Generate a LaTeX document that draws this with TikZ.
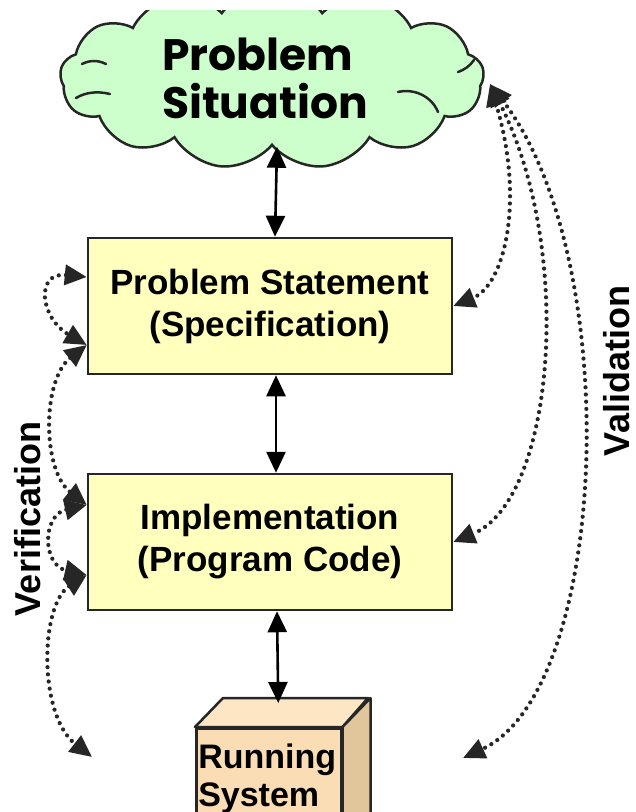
\documentclass[tikz,border=0pt]{standalone}
\usepackage{fontspec}
\setmainfont{Liberation Sans}
\newfontfamily\cloudfont{Poppins}
\usetikzlibrary{arrows.meta,shapes.symbols,calc}
\definecolor{cloudfill}{RGB}{204,255,204}
\definecolor{boxfill}{RGB}{255,255,190}
\definecolor{cubefront}{RGB}{250,221,180}
\definecolor{cubetop}{RGB}{252,230,196}
\definecolor{cubeside}{RGB}{224,198,154}
\begin{document}
\begin{tikzpicture}[x=1pt,y=-1pt,
  box/.style={draw=black!85, line width=2.5pt, fill=boxfill, minimum width=364pt,
    minimum height=136pt, align=center, font=\fontsize{35}{42}\selectfont\bfseries},
  dbl/.style={line width=2.6pt, {Triangle[length=21pt,width=19pt]}-{Triangle[length=21pt,width=19pt]}},
  dotarr/.style={line width=4.2pt, draw=black!85, dash pattern=on 0pt off 7.2pt, line cap=round,
    {Triangle[length=22pt,width=20pt]}-{Triangle[length=22pt,width=20pt]}},
  sidelabel/.style={rotate=90, font=\fontsize{36}{40}\selectfont\bfseries, inner sep=1pt},
  curl/.style={draw=black!85, line width=2.5pt, line cap=round}
]
\useasboundingbox (0,0) rectangle (636,812);
\fill[white] (0,0) rectangle (636,812);

\begin{scope}
\clip (0,10) rectangle (636,812);
\node[cloud, cloud puffs=13, cloud puff arc=110, aspect=2.5, draw=black!85, line width=2.5pt,
  fill=cloudfill, minimum width=424pt, minimum height=182pt, inner sep=0pt,
  text width=220pt, align=left, font=\cloudfont\fontsize{44}{50}\selectfont\bfseries]
  (sit) at (272,78) {Problem\\[-2pt]Situation};
\draw[curl] (398,92) .. controls (415,88) and (432,97) .. (438,112);
\draw[curl] (458,72) .. controls (464,70) and (470,66) .. (474,60);
\draw[curl] (82,64) .. controls (90,60) and (98,60) .. (106,64);
\draw[curl] (76,98) .. controls (86,92) and (98,91) .. (110,94);
\end{scope}

\node[box] (spec) at (270,306) {Problem Statement\\(Specification)};
\node[box] (impl) at (270,542) {Implementation\\(Program Code)};

\node[draw=black!85, line width=2.5pt, fill=cubefront, minimum width=145pt,
  inner xsep=1pt, inner ysep=16pt, text width=141pt, align=left, anchor=north west,
  font=\fontsize{34}{38}\selectfont\bfseries] (run) at (195,727) {Running\\System};
\draw[draw=black!85, line width=2.5pt, fill=cubetop, line join=round]
  (run.north west) -- ++(28,-29) -- ++(145,0) -- (run.north east) -- cycle;
\draw[draw=black!85, line width=2.5pt, fill=cubeside, line join=round]
  (run.north east) -- ++(28,-29) -- ++(0,140) -- ++(-28,0) -- cycle;

\draw[dbl] ([xshift=5pt]sit.south) -- ([xshift=5pt]spec.north);
\draw[dbl] ([xshift=6pt]spec.south) -- ([xshift=6pt]impl.south |- impl.north);
\draw[dbl] ([xshift=7pt]impl.south) -- ($(run.north)+(9.5,-24)$);

\coordinate (vsrc) at (490,84);
\coordinate (vend) at (463,758);
\draw[dotarr] (vsrc) .. controls (525,200) and (505,285) .. (spec.east);
\draw[dotarr] (vsrc) .. controls (575,250) and (555,500) .. (impl.east);
\draw[dotarr] (vsrc) .. controls (625,260) and (610,690) .. (vend);

\coordinate (wend) at (92,757);
\draw[dotarr] ($(spec.west)+(0,-29)$) .. controls (35,272) and (40,318) .. ($(spec.west)+(0,39)$);
\draw[dotarr] ($(spec.west)+(0,39)$) .. controls (42,380) and (42,470) .. ($(impl.west)+(0,-37)$);
\draw[dotarr] ($(impl.west)+(0,-37)$) .. controls (42,515) and (42,565) .. ($(impl.west)+(0,33)$);
\draw[dotarr] ($(impl.west)+(0,33)$) .. controls (40,605) and (38,715) .. (wend);

\node[sidelabel] (verif) at (28,519) {Verification};
\node[sidelabel] (valid) at (617,371) {Validation};
\end{tikzpicture}
\end{document}
